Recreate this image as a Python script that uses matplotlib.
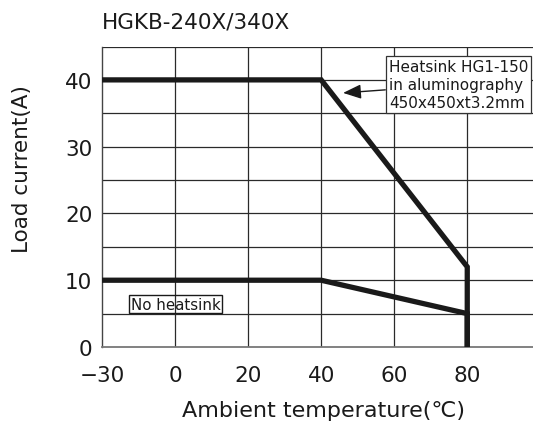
import numpy as np
import matplotlib
matplotlib.use("Agg")
import matplotlib.pyplot as plt
from matplotlib.scale import FuncScale

# ---- data ----
title = "HGKB-240X/340X"
x_ticks = [-30, 0, 20, 40, 60, 80]
y_ticks = [0, 10, 20, 30, 40]
heatsink_temp = [-30, 40, 80, 80]
heatsink_current = [40, 40, 12, 0]
noheat_temp = [-30, 40, 80, 80]
noheat_current = [10, 10, 5, 0]
heatsink_label = "Heatsink HG1-150\nin aluminography\n450x450xt3.2mm"
noheat_label = "No heatsink"
xlabel = "Ambient temperature(\u2103)"
ylabel = "Load current(A)"

plt.rcParams['font.family'] = ['DejaVu Sans']

def fwd(t):
    t = np.asarray(t, dtype=float)
    return np.where(t < 0, (t + 30.0) / 30.0, 1.0 + t / 20.0)

def inv(p):
    p = np.asarray(p, dtype=float)
    return np.where(p < 1, p * 30.0 - 30.0, (p - 1.0) * 20.0)

fig = plt.figure(figsize=(5.33, 4.27), dpi=100)
W, H = 533, 427
left, right, top, bottom = 102, 533, 47.5, 348
ax = fig.add_axes([left / W, 1 - bottom / H, (right - left) / W, (bottom - top) / H])

ax.set_xscale(FuncScale(ax, (fwd, inv)))
ax.set_xlim(-30, 98)
ax.set_ylim(0, 45)

# grid
for t in x_ticks[1:]:
    ax.axvline(t, color='#2a2a2a', lw=0.9, zorder=1)
for v in np.arange(5, 46, 5):
    ax.axhline(v, color='#2a2a2a', lw=0.9, zorder=1)

ax.plot(heatsink_temp, heatsink_current, color='#1a1a1a', lw=3.8,
        solid_joinstyle='miter', solid_capstyle='butt', zorder=3, clip_on=False)
ax.plot(noheat_temp, noheat_current, color='#1a1a1a', lw=3.8,
        solid_joinstyle='miter', solid_capstyle='butt', zorder=3, clip_on=False)

ax.set_xticks(x_ticks)
ax.set_xticklabels([("\u2212" + str(-t)) if t < 0 else str(t) for t in x_ticks])
ax.set_yticks(y_ticks)
ax.set_yticklabels([str(v) for v in y_ticks])
ax.tick_params(axis='both', length=0, labelsize=15.5, colors='#1a1a1a')
ax.tick_params(axis='x', pad=13)
ax.tick_params(axis='y', pad=7)

for s in ['top', 'right']:
    ax.spines[s].set_visible(False)
ax.spines['left'].set_color('#444444')
ax.spines['left'].set_linewidth(1.0)
ax.spines['bottom'].set_color('#777777')
ax.spines['bottom'].set_linewidth(1.3)

# annotations
ax.annotate(heatsink_label, xy=(46, 38.05), xytext=(77.6, 39.3),
            ha='center', va='center', multialignment='left',
            fontsize=11, color='#1a1a1a', linespacing=1.25,
            bbox=dict(boxstyle='square,pad=0.2', fc='white', ec='#333333', lw=0.9),
            arrowprops=dict(arrowstyle='-|>,head_length=0.55,head_width=0.22',
                            mutation_scale=20, color='#1a1a1a', lw=1.0,
                            shrinkA=0, shrinkB=0),
            zorder=5)
ax.text(0.1, 6.4, noheat_label, ha='center', va='center', fontsize=10.8,
        color='#1a1a1a',
        bbox=dict(boxstyle='square,pad=0.1', fc='none', ec='#1a1a1a', lw=1.0),
        zorder=5)

fig.text(102 / W, 1 - 23 / H, title, ha='left', va='center', fontsize=15.5, color='#1a1a1a')
fig.text(323.5 / W, 1 - 411 / H, xlabel, ha='center', va='center', fontsize=16,
         color='#1a1a1a', family=['DejaVu Sans'])
fig.text(22 / W, 1 - 169 / H, ylabel, ha='center', va='center', rotation=90,
         fontsize=15.5, color='#1a1a1a')

fig.savefig("out.png", dpi=100)
